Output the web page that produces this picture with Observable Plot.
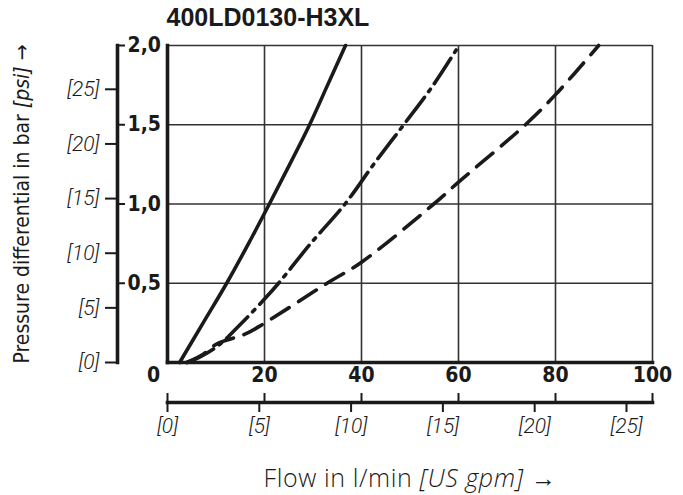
<!DOCTYPE html>
<html>
<head>
<meta charset="utf-8">
<script src="https://cdn.jsdelivr.net/npm/d3@7"></script>
<script src="https://cdn.jsdelivr.net/npm/@observablehq/plot@0.6"></script>
<style>
  html, body { margin: 0; padding: 0; background: #fff; }
</style>
</head>
<body>
<div id="chart"></div>
<script>
// Characteristic curves: pressure differential vs. flow
const chartTitle = "400LD0130-H3XL";
const xTitle = ["Flow in l/min ", "[US gpm]", " →"];
const yTitle = ["Pressure differential in bar ", "[psi]", " →"];

const PSI_PER_BAR = 14.5038;
const LPM_PER_GPM = 3.78541;

// Curve 1 (solid)
const solidFlow = [2.5, 7.35, 12.2, 16.7, 21.0, 25.2, 29.3, 33.0, 36.7];
const solidDp   = [0, 0.25, 0.5, 0.75, 1.0, 1.25, 1.5, 1.75, 2.0];

// Curve 2 (dash-dot)
const dashDotFlow = [4.0, 7.0, 10.6, 15.0, 20.0, 22.9, 29.5, 36.6, 42.5, 48.7, 54.8, 60.1];
const dashDotDp   = [0, 0.04, 0.11, 0.24, 0.40, 0.5, 0.75, 1.0, 1.25, 1.5, 1.75, 2.0];

// Curve 3 (dashed)
const dashedFlow = [4.0, 7.0, 10.2, 16.1, 20.0, 32.9, 40.0, 54.9, 60.0, 73.8, 80.0, 88.9];
const dashedDp   = [0, 0.045, 0.118, 0.18, 0.248, 0.5, 0.633, 1.0, 1.138, 1.5, 1.69, 2.0];

// Axis ticks
const barXTicks = [0, 20, 40, 60, 80, 100];
const barXLabels = ["0", "20", "40", "60", "80", "100"];
const barYTicks = [0.5, 1.0, 1.5, 2.0];
const barYLabels = ["0,5", "1,0", "1,5", "2,0"];
const gpmTicks = [0, 5, 10, 15, 20, 25];
const psiTicks = [0, 5, 10, 15, 20, 25];

const toPoints = (flow, dp) => flow.map((f, i) => ({flow: f, dp: dp[i]}));

const boldFont = "'Liberation Sans Narrow', 'Arial Narrow', 'DejaVu Sans Condensed', 'Liberation Sans', sans-serif";
const italicFont = "Roboto, 'Liberation Sans', sans-serif";
const titleFont = "'Open Sans', 'Noto Sans', sans-serif";
const ink = "#1a1a1a";
const gridInk = "#333";

const barXPairs = barXTicks.map((v, i) => ({v, label: barXLabels[i]}));
const barYPairs = barYTicks.map((v, i) => ({v, label: barYLabels[i]}));
const noText = () => "";

const plot = Plot.plot({
  width: 683,
  height: 495,
  marginTop: 45,
  marginBottom: 133,
  marginLeft: 167,
  marginRight: 31,
  style: {background: "#fff", color: ink, overflow: "visible"},
  x: {domain: [0, 100]},
  y: {domain: [0, 2]},
  marks: [
    // grid (also forms the thin top and right edges)
    Plot.gridX(barXTicks.slice(1), {stroke: gridInk, strokeOpacity: 1, strokeWidth: 1.6}),
    Plot.gridY(barYTicks, {stroke: gridInk, strokeOpacity: 1, strokeWidth: 1.6}),

    // curves
    Plot.line(toPoints(solidFlow, solidDp), {x: "flow", y: "dp", stroke: ink, strokeWidth: 3.6, curve: "catmull-rom"}),
    Plot.line(toPoints(dashDotFlow, dashDotDp), {x: "flow", y: "dp", stroke: ink, strokeWidth: 3.6, strokeDasharray: "30,7,3,7", curve: "catmull-rom"}),
    Plot.line(toPoints(dashedFlow, dashedDp), {x: "flow", y: "dp", stroke: ink, strokeWidth: 3.6, strokeDasharray: "21,11", curve: "catmull-rom"}),

    // thick left and bottom edges of the plot area
    Plot.frame({anchor: "left", stroke: ink, strokeWidth: 3.6}),
    Plot.frame({anchor: "bottom", stroke: ink, strokeWidth: 3.6}),

    // bar axis (left) with psi ticks on its outer side
    Plot.frame({anchor: "left", dx: -50, stroke: ink, strokeWidth: 3.6}),
    Plot.axisY(barYTicks, {anchor: "left", dx: -50, tickSize: -8, tickFormat: noText, label: null, strokeWidth: 2, stroke: ink}),
    Plot.text(barYPairs, {y: "v", text: "label", frameAnchor: "left", dx: -40, textAnchor: "start",
      fontFamily: boldFont, fontWeight: "bold", fontSize: 21, fill: ink}),
    Plot.axisY(psiTicks.map((p) => p / PSI_PER_BAR), {anchor: "left", dx: -50, tickSize: 12, tickPadding: 6,
      tickFormat: (d) => `[${Math.round(d * PSI_PER_BAR)}]`, label: null, strokeWidth: 2, stroke: ink,
      fontFamily: italicFont, fontStyle: "italic", fontWeight: 300, fontSize: 21, fill: ink}),

    // bar flow labels directly under the plot
    Plot.text(barXPairs.filter((d) => d.v !== 0), {x: "v", text: "label", frameAnchor: "bottom", dy: 19,
      fontFamily: boldFont, fontWeight: "bold", fontSize: 21, fill: ink}),
    Plot.text(barXPairs.filter((d) => d.v === 0), {x: "v", text: "label", frameAnchor: "bottom", dy: 19, dx: -14,
      fontFamily: boldFont, fontWeight: "bold", fontSize: 21, fill: ink}),

    // US gpm axis below
    Plot.frame({anchor: "bottom", dy: 40, stroke: ink, strokeWidth: 3.6}),
    Plot.axisX(barXTicks, {anchor: "bottom", dy: 40, tickSize: -9, tickFormat: noText, label: null, strokeWidth: 2, stroke: ink}),
    Plot.axisX(gpmTicks.map((g) => g * LPM_PER_GPM), {anchor: "bottom", dy: 40, tickSize: 10, tickPadding: 6,
      tickFormat: (d) => `[${Math.round(d / LPM_PER_GPM)}]`, label: null, strokeWidth: 2, stroke: ink,
      fontFamily: italicFont, fontStyle: "italic", fontWeight: 300, fontSize: 21, fill: ink}),

    // titles
    Plot.text([chartTitle], {frameAnchor: "top-left", dx: -1, dy: -28, textAnchor: "start", lineAnchor: "middle",
      fontFamily: "'Liberation Sans', Arial, sans-serif", fontWeight: "bold", fontSize: 25, fill: ink}),
    Plot.text([xTitle.join("")], {frameAnchor: "bottom", dy: 124, lineAnchor: "bottom", className: "x-title",
      fontFamily: titleFont, fontWeight: 300, fontSize: 25, fill: ink}),
    Plot.text([yTitle.join("")], {frameAnchor: "left", dx: -145, rotate: -90, textAnchor: "middle", lineAnchor: "middle",
      className: "y-title", fontFamily: boldFont, fontWeight: "normal", fontSize: 21, fill: ink})
  ]
});

// mixed upright / italic runs inside the axis titles
function styleRuns(cls, parts, spacing) {
  const t = d3.select(plot).select(`g.${cls} text`);
  t.text(null);
  if (spacing) t.attr("letter-spacing", spacing);
  parts.forEach((p, i) => {
    t.append("tspan").text(p).attr("font-style", i === 1 ? "italic" : null);
  });
}
styleRuns("x-title", xTitle, "0.6px");
styleRuns("y-title", yTitle);

document.getElementById("chart").append(plot);
</script>
</body>
</html>
